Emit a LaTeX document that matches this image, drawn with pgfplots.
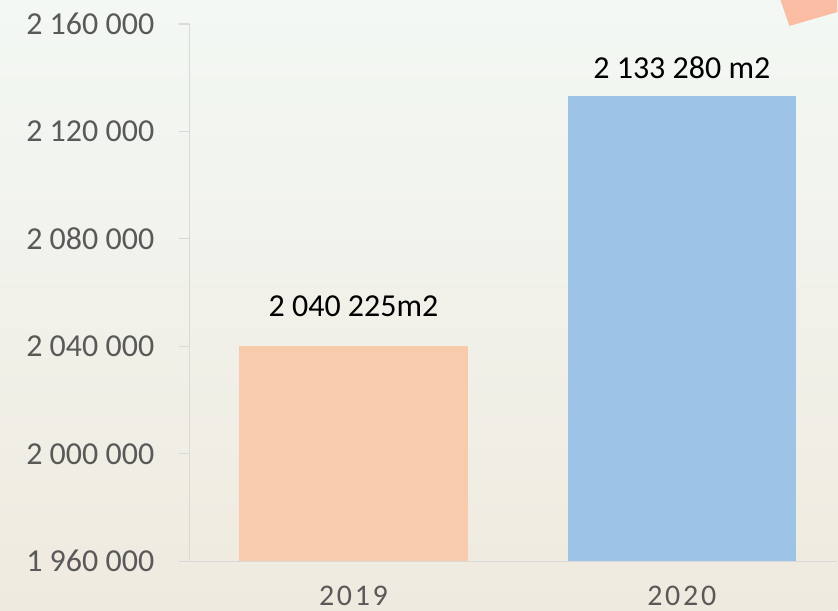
\documentclass[border=0pt]{standalone}
\usepackage{pgfplots}
\pgfplotsset{compat=1.18}
\usepackage{fontspec}
\setmainfont{Carlito}
\definecolor{peach}{HTML}{F8CBAD}
\definecolor{lblue}{HTML}{9DC3E6}
\definecolor{ticktext}{HTML}{595959}
\definecolor{axisgray}{HTML}{D9D9D9}
\definecolor{bgtop}{HTML}{F3F8F4}
\definecolor{bgbot}{HTML}{EFEADF}
\definecolor{deco}{HTML}{FABDA3}
\begin{document}
\begin{tikzpicture}[x=1bp,y=1bp]
\shade[top color=bgtop, bottom color=bgbot] (0,0) rectangle (838,611);
\fill[deco] (781,611) -- (790,585) -- (838,599) -- (838,611) -- cycle;
\begin{axis}[
  at={(189.5bp,49.3bp)}, anchor=south west,
  scale only axis, width=648.5bp, height=537.7bp,
  xmin=-0.5, xmax=1.474, ymin=1960000, ymax=2160000,
  scaled y ticks=false,
  ytick={1960000,2000000,2040000,2080000,2120000,2160000},
  yticklabels={1 960 000,2 000 000,2 040 000,2 080 000,2 120 000,2 160 000},
  xtick={0,1}, xticklabels={2019,2020},
  axis x line*=bottom, axis y line*=left,
  axis line style={draw=axisgray, line width=1.2bp},
  tick align=outside, major tick length=10bp,
  ytick style={draw=axisgray, line width=1.2bp},
  xtick style={draw=none},
  yticklabel style={font={\fontsize{32bp}{38bp}\selectfont}, text=ticktext, anchor=east, inner sep=0pt, xshift=-25bp},
  xticklabel style={font={\fontsize{30bp}{36bp}\selectfont\addfontfeature{LetterSpace=9}}, text=ticktext, anchor=center, inner sep=0pt, yshift=-25bp},
  ybar, bar width=228.5bp, bar shift=0pt,
  clip=true,
]
\addplot[fill=peach, draw=none, nodes near coords={2 040 225m2},
  every node near coord/.append style={font={\fontsize{32bp}{38bp}\selectfont}, text=black, anchor=center, yshift=40bp, inner sep=0pt}]
  coordinates {(0,2040225)};
\addplot[fill=lblue, draw=none, nodes near coords={2 133 280 m2},
  every node near coord/.append style={font={\fontsize{32bp}{38bp}\selectfont}, text=black, anchor=center, yshift=28bp, inner sep=0pt}]
  coordinates {(1,2133280)};
\end{axis}
\end{tikzpicture}
\end{document}
